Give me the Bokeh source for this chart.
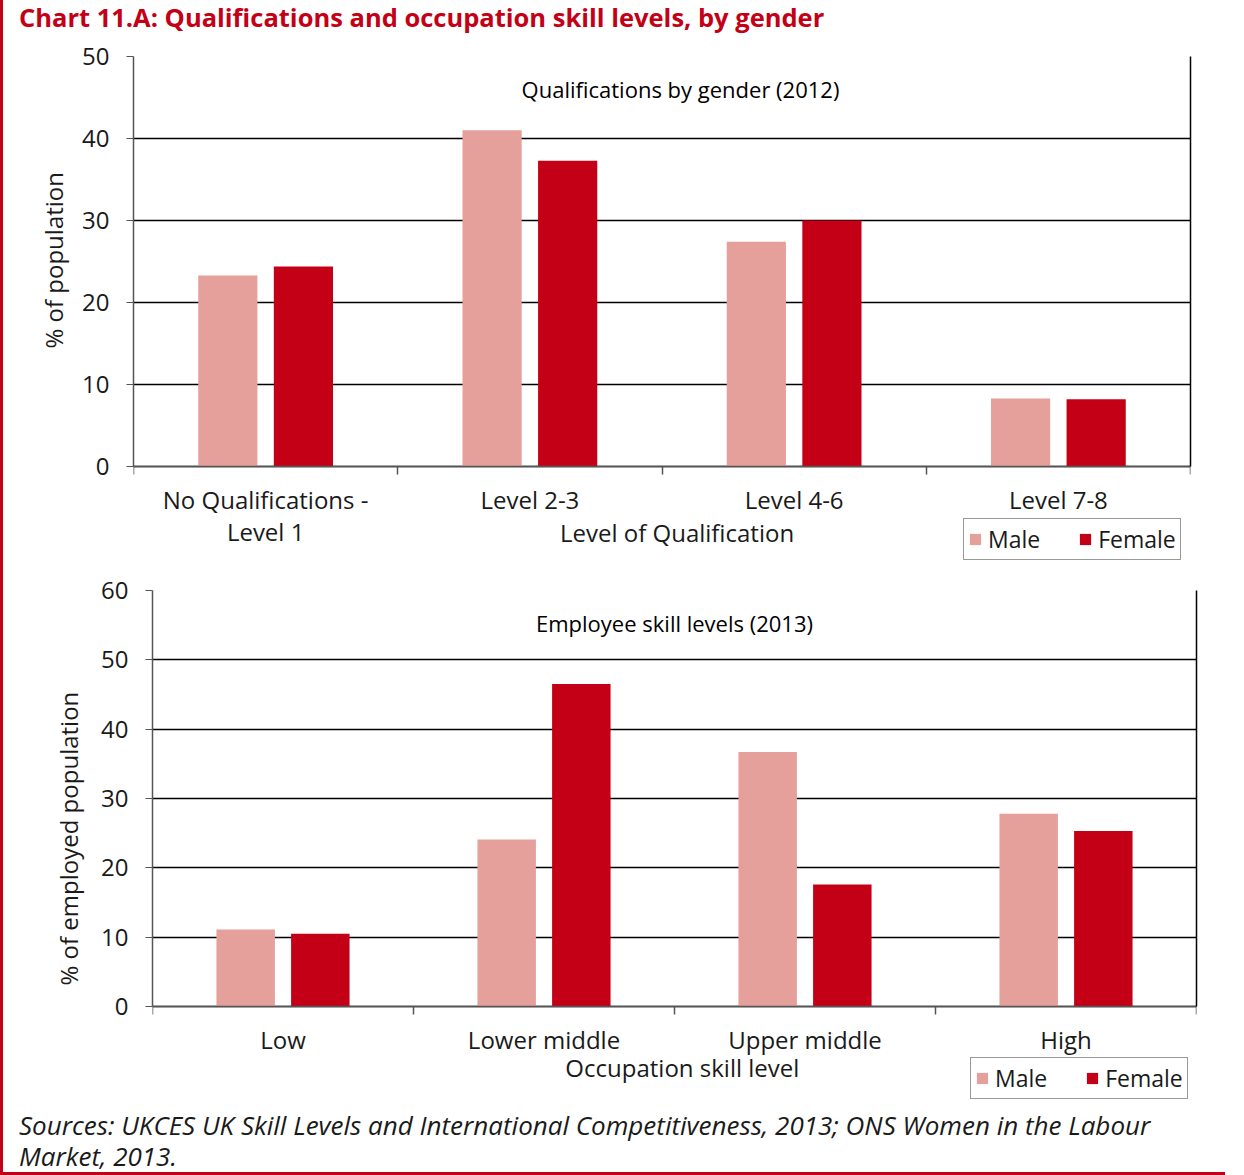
from bokeh.plotting import figure
from bokeh.models import (Range1d, FixedTicker, Legend, LegendItem, LinearAxis,
                          Label, Div, ColumnDataSource, Title)
from bokeh.core.properties import value
from bokeh.transform import dodge
from bokeh.layouts import column
from bokeh.embed import file_html
from bokeh.resources import INLINE

# ---------------- data ----------------
chart_title = "Chart 11.A: Qualifications and occupation skill levels, by gender"
sources_text = ("Sources: UKCES UK Skill Levels and International Competitiveness, 2013; "
                "ONS Women in the Labour Market, 2013.")
series_names = ["Male", "Female"]

qual_title = "Qualifications by gender (2012)"
qual_xlabel = "Level of Qualification"
qual_ylabel = "% of population"
qual_categories = ["No Qualifications -\nLevel 1", "Level 2-3", "Level 4-6", "Level 7-8"]
qual_male = [23.3, 41.0, 27.4, 8.3]
qual_female = [24.4, 37.3, 30.0, 8.2]
qual_ymax = 50

skill_title = "Employee skill levels (2013)"
skill_xlabel = "Occupation skill level"
skill_ylabel = "% of employed population"
skill_categories = ["Low", "Lower middle", "Upper middle", "High"]
skill_male = [11.1, 24.1, 36.7, 27.8]
skill_female = [10.5, 46.5, 17.6, 25.3]
skill_ymax = 60

# ---------------- style ----------------
MALE = "#E6A09B"
FEMALE = "#C40016"
FONT = "Open Sans"
AXIS_GREY = "#555555"
TXT = "#1a1a1a"


def make_chart(cats, male, female, ymax, title, xlabel, ylabel, *,
               frame_w, frame_h, axis_px, b_left, b_right, b_top, b_bottom,
               legend_loc, title_dx, title_px, xlabel_dx, xlabel_px,
               ylabel_offset, ylabel_standoff):
    """axis_px: pixel height of the 0..ymax span; the frame extends below 0 so the
    category labels, axis title and legend sit inside it."""
    n = len(cats)
    idx = list(range(n))
    ppu = axis_px / ymax
    ystart = ymax - frame_h / ppu
    src = ColumnDataSource(dict(idx=idx, male=male, female=female, cat=cats))
    p = figure(frame_width=frame_w, frame_height=frame_h,
               x_range=Range1d(-0.5, n - 0.5), y_range=Range1d(ystart, ymax),
               output_backend="svg", toolbar_location=None,
               min_border_left=b_left, min_border_right=b_right,
               min_border_top=b_top, min_border_bottom=b_bottom,
               background_fill_color="white", border_fill_color="white",
               outline_line_color=None)
    p.frame_align = False
    r_m = p.vbar(x=dodge("idx", -0.143, range=p.x_range), top="male", width=0.224,
                 source=src, fill_color=MALE, line_color=None)
    r_f = p.vbar(x=dodge("idx", 0.143, range=p.x_range), top="female", width=0.224,
                 source=src, fill_color=FEMALE, line_color=None)

    yticks = list(range(0, ymax + 1, 10))
    # grid
    p.xgrid.visible = False
    p.ygrid.ticker = FixedTicker(ticks=yticks)
    p.ygrid.grid_line_color = "black"
    p.ygrid.grid_line_width = 1.6

    # left y axis
    ya = p.yaxis[0]
    ya.ticker = FixedTicker(ticks=yticks)
    ya.bounds = (0, ymax)
    ya.axis_line_color = AXIS_GREY
    ya.axis_line_width = 1.5
    ya.major_tick_line_color = AXIS_GREY
    ya.major_tick_out = 7
    ya.major_tick_in = 0
    ya.minor_tick_line_color = None
    ya.major_label_text_font = FONT
    ya.major_label_text_font_size = "24px"
    ya.major_label_text_color = TXT
    ya.major_label_standoff = 17

    # y axis title, placed along the 0..ymax span (the frame runs below 0)
    p.add_layout(Title(text=ylabel, align="left", offset=ylabel_offset,
                       standoff=ylabel_standoff, text_font=FONT,
                       text_font_size="24px", text_font_style="normal",
                       text_color=TXT), "left")

    # right border line (0..ymax)
    ra = LinearAxis(ticker=FixedTicker(ticks=[]), bounds=(0, ymax),
                    axis_line_color="black", axis_line_width=1.5,
                    major_tick_line_color=None, minor_tick_line_color=None,
                    major_label_text_font_size="0px")
    p.add_layout(ra, "right")

    # x axis drawn at y = 0, ticks at category boundaries
    xa = p.xaxis[0]
    xa.fixed_location = 0
    xa.ticker = FixedTicker(ticks=[], minor_ticks=[i - 0.5 for i in range(n + 1)])
    xa.axis_line_color = AXIS_GREY
    xa.axis_line_width = 1.5
    xa.major_tick_line_color = None
    xa.minor_tick_line_color = AXIS_GREY
    xa.minor_tick_line_width = 1.5
    xa.minor_tick_out = 8
    xa.minor_tick_in = 0
    xa.major_label_standoff = 0

    # category labels under the axis
    p.text(x="idx", y=0, text="cat", source=src, y_offset=16,
           text_align="center", text_baseline="top", text_line_height=0.98,
           text_font=value(FONT), text_font_size="24px", text_color=TXT)

    # x axis title
    p.add_layout(Label(x=(n - 1) / 2 + xlabel_dx, y=-xlabel_px / ppu, text=xlabel,
                       text_align="center", text_baseline="middle",
                       text_font=FONT, text_font_size="24px", text_color=TXT))
    # chart title inside the plot area
    p.add_layout(Label(x=(n - 1) / 2 + title_dx, y=ymax - title_px / ppu, text=title,
                       text_align="center", text_baseline="middle",
                       text_font=FONT, text_font_size="22px", text_color="#000000"))

    legend = Legend(items=[LegendItem(label=series_names[0], renderers=[r_m]),
                           LegendItem(label=series_names[1], renderers=[r_f])],
                    orientation="horizontal", location=legend_loc,
                    border_line_color="#333333", border_line_width=1.5,
                    background_fill_color="white", background_fill_alpha=1,
                    glyph_width=14, glyph_height=14, label_standoff=6, spacing=38,
                    padding=4, margin=0,
                    label_text_font=FONT, label_text_font_size="23px",
                    label_text_color=TXT)
    p.add_layout(legend)
    return p


top = make_chart(qual_categories, qual_male, qual_female, qual_ymax,
                 qual_title, qual_xlabel, qual_ylabel,
                 frame_w=1057, frame_h=508, axis_px=410,
                 b_left=130, b_right=35, b_top=22, b_bottom=10,
                 legend_loc=(830, 4), title_dx=0.07, title_px=32,
                 xlabel_dx=0.057, xlabel_px=66, ylabel_offset=216, ylabel_standoff=20)

bottom = make_chart(skill_categories, skill_male, skill_female, skill_ymax,
                    skill_title, skill_xlabel, skill_ylabel,
                    frame_w=1044, frame_h=510, axis_px=416,
                    b_left=149, b_right=29, b_top=16, b_bottom=10,
                    legend_loc=(818, 1), title_dx=0.0, title_px=32,
                    xlabel_dx=0.03, xlabel_px=61, ylabel_offset=115, ylabel_standoff=28)

title_div = Div(text=chart_title, width=1222, height=34, margin=0,
                styles={"font-family": FONT, "font-weight": "bold", "font-size": "25.5px",
                        "color": FEMALE, "padding-left": "16px", "line-height": "34px",
                        "white-space": "nowrap", "box-sizing": "border-box"})

sources_div = Div(text=sources_text, width=1222, height=62, margin=0,
                  styles={"font-family": FONT, "font-style": "italic", "font-size": "26px",
                          "color": TXT, "padding-left": "16px", "padding-right": "60px",
                          "line-height": "31px", "box-sizing": "border-box"})

layout = column(title_div, top, bottom, sources_div,
                styles={"border-left": f"3px solid {FEMALE}",
                        "border-bottom": f"3px solid {FEMALE}"})

open("out.html", "w").write(file_html(layout, INLINE))
